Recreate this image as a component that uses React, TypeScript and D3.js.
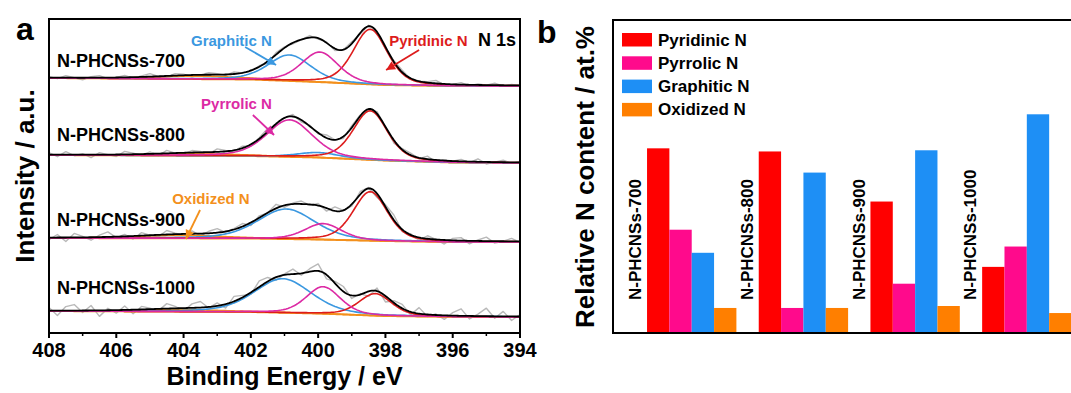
import React from 'react';
import * as d3 from 'd3';

// ---------- DATA ----------
const energyTicks = [408, 406, 404, 402, 400, 398, 396, 394];
const minorTicks = [407, 405, 403, 401, 399, 397, 395];
const samples = ['N-PHCNSs-700', 'N-PHCNSs-800', 'N-PHCNSs-900', 'N-PHCNSs-1000'];
const species = ['Pyridinic N', 'Pyrrolic N', 'Graphitic N', 'Oxidized N'];

// panel b: relative content, at.%
const pyridinicPct = [47.2, 46.4, 33.6, 16.9];
const pyrrolicPct = [26.4, 6.4, 12.6, 22.1];
const graphiticPct = [20.5, 41.0, 46.7, 55.9];
const oxidizedPct = [6.4, 6.4, 6.9, 5.1];

// panel a: fitted components per spectrum [center eV, height, fwhm]
const pyridinicPeaks = [[398.45, 55, 1.2], [398.45, 49, 1.2], [398.45, 49, 1.2], [398.3, 22, 1.15]];
const pyrrolicPeaks = [[399.95, 30, 1.3], [400.85, 37, 1.6], [399.85, 16, 1.3], [399.85, 27, 1.2]];
const graphiticPeaks = [[400.85, 26, 1.5], [400.0, 5, 1.5], [400.95, 30, 2.0], [401.05, 34, 2.0]];
const oxidizedPeaks = [[403.5, 3, 3.0], [403.5, 2, 3.0], [404.0, 3, 3.0], [404.0, 2, 3.0]];

// background knots per spectrum (eV, intensity)
const bgEnergy = [408, 402, 400, 398, 396, 394];
const bgValues = [
  [255, 253.5, 251, 248, 247, 247],
  [178, 177, 175.5, 172.5, 170.5, 170],
  [95, 94.5, 93.5, 92, 91, 91],
  [22, 21, 19.5, 17, 16.2, 16],
];

// raw-data residuals (every 0.25 eV from 408 down to 394)
const residual700 = [1, -1, 2, 0, -2, 1, 2, -1, 0, 2, -1, 1, 3, 0, -1, 2, 1, -2, 0, 2, 1, -1, 2, 0, -1, 1, -2, 2, 1, -1, 0, 2, -1, 1, -2, 0, 2, -1, 1, 0, -2, 1, 2, -1, 0, 1, 3, -1, 0, 2, -1, 1, 0, 2, -1, 1, 0];
const residual800 = [2, -2, 3, -1, 1, -3, 2, 0, -2, 3, 1, -1, 2, -2, 3, 0, -1, 2, 1, -2, 3, 1, -1, 2, -2, 1, 3, -1, 0, 2, -2, 1, -1, 3, 0, -2, 2, 1, -1, 2, 0, -3, 1, 2, -1, 3, -2, 1, 0, 2, -1, 3, -2, 0, 2, -1, 1];
const residual900 = [-2, 3, -4, 4, 1, -3, 2, 5, -1, 2, -3, 3, 0, -2, 4, 1, -1, 3, -2, 2, 4, -1, 1, 3, -3, 2, 0, 4, -2, 1, 3, -1, 2, -3, 4, 0, -2, 3, 1, -4, 2, 5, -2, 1, -3, 3, 0, -4, 2, 3, -3, 1, 4, -2, 0, 3, -1];
const residual1000 = [3, -5, 4, 6, -2, 5, -6, 2, -3, 4, -4, 3, 1, -2, 5, 2, -3, 4, 6, -1, 3, -4, 5, 2, -2, 6, 4, -3, 1, 5, -2, 3, 7, -4, 2, 5, -3, 1, -5, 3, -6, 2, 4, -3, 6, -2, 1, -4, 3, 7, -3, 2, 8, -2, 5, -4, 2];
const residuals = [residual700, residual800, residual900, residual1000];

// label anchors (eV, intensity)
const sampleLabelPos = [[407.76, 272], [407.76, 198], [407.76, 113], [407.76, 45]];

// ---------- STYLE ----------
const FONT = "Arial, 'Liberation Sans', Helvetica, sans-serif";
const lineCol = { pyr: '#dd1c1c', pyrrol: '#dc2aa4', graph: '#3b98e0', oxi: '#f3901c', raw: '#b9b9b9' };
const barCol = ['#ff0000', '#ff0a8c', '#1e8ff5', '#ff7f00'];

const ETA = 0.35;
function gl(e: number, p: number[]) {
  const [c, h, w] = p;
  const u = (e - c) / w;
  return h * ((1 - ETA) * Math.exp(-4 * Math.LN2 * u * u) + ETA / (1 + 4 * u * u));
}

export default function App() {
  const W = 1071, H = 393;
  const A = { l: 49, r: 520, t: 19, b: 333 };
  const x = d3.scaleLinear().domain([408, 394]).range([A.l, A.r]);
  const y = d3.scaleLinear().domain([0, 314]).range([A.b, A.t]);

  const fine = d3.range(394, 408.0001, 0.05);
  const rawE = d3.range(0, 57).map((i) => 408 - i * 0.25);

  const line = d3.line<[number, number]>().x((d) => x(d[0])).y((d) => y(d[1]));

  const spectra = samples.map((s, i) => {
    const bg = d3.scaleLinear().domain(bgEnergy).range(bgValues[i]);
    const comps = [pyridinicPeaks[i], pyrrolicPeaks[i], graphiticPeaks[i], oxidizedPeaks[i]];
    const total = (e: number) => bg(e) + comps.reduce((a, p) => a + gl(e, p), 0);
    const comp = (p: number[]) => line(fine.map((e) => [e, bg(e) + gl(e, p)] as [number, number]));
    return {
      raw: line(rawE.map((e, k) => [e, total(e) + residuals[i][k]] as [number, number])),
      bgPath: line(fine.map((e) => [e, bg(e)] as [number, number])),
      pyr: comp(comps[0]),
      pyrrol: comp(comps[1]),
      graph: comp(comps[2]),
      oxi: comp(comps[3]),
      total: line(fine.map((e) => [e, total(e)] as [number, number])),
    };
  });

  // annotations in data coords
  const annots = [
    { text: 'Graphitic N', col: lineCol.graph, tx: 403.78, ty: 293, from: [402.17, 286], to: [401.25, 268] },
    { text: 'Pyridinic N', col: lineCol.pyr, tx: 397.89, ty: 293, from: [397.0, 283], to: [397.98, 263] },
    { text: 'Pyrrolic N', col: lineCol.pyrrol, tx: 403.48, ty: 230, from: [401.94, 218], to: [401.31, 198] },
    { text: 'Oxidized N', col: lineCol.oxi, tx: 404.34, ty: 135, from: [403.51, 123], to: [403.93, 94] },
  ];

  // panel b
  const B = { l: 613, t: 20, b: 333 };
  const gx = d3.scaleBand<string>().domain(samples).range([624.7, 1071.5]);
  const sx = d3.scaleBand<string>().domain(['label', ...species]).range([0, gx.bandwidth()]);
  const by = d3.scaleLinear().domain([0, 80]).range([B.b, B.t]);
  const series = [pyridinicPct, pyrrolicPct, graphiticPct, oxidizedPct];

  const arrowHead = (fx: number, fy: number, tx: number, ty: number, col: string, key: string) => {
    const ang = Math.atan2(ty - fy, tx - fx);
    const L = 9, Wd = 4.5;
    const bx = tx - L * Math.cos(ang), byy = ty - L * Math.sin(ang);
    const px = -Math.sin(ang), py = Math.cos(ang);
    return <polygon key={key} points={`${tx},${ty} ${bx + px * Wd},${byy + py * Wd} ${bx - px * Wd},${byy - py * Wd}`} fill={col} />;
  };

  return (
    <svg width={W} height={H} style={{ position: 'absolute', left: 0, top: 0, background: '#fff' }} fontFamily={FONT}>
      <rect width={W} height={H} fill="#fff" />
      {/* ---------- panel a ---------- */}
      <text x={16} y={40} fontSize={32} fontWeight="bold">a</text>
      {spectra.map((s, i) => (
        <g key={i} fill="none" strokeLinejoin="round">
          <path d={s.raw!} stroke={lineCol.raw} strokeWidth={1.4} />
          <path d={s.bgPath!} stroke={lineCol.oxi} strokeWidth={2} />
          <path d={s.oxi!} stroke={lineCol.oxi} strokeWidth={1.6} />
          <path d={s.graph!} stroke={lineCol.graph} strokeWidth={1.6} />
          <path d={s.pyr!} stroke={lineCol.pyr} strokeWidth={1.6} />
          <path d={s.pyrrol!} stroke={lineCol.pyrrol} strokeWidth={1.6} />
          <path d={s.total!} stroke="#000" strokeWidth={1.8} />
        </g>
      ))}
      {samples.map((s, i) => (
        <text key={s} x={x(sampleLabelPos[i][0])} y={y(sampleLabelPos[i][1])} dominantBaseline="central" fontSize={18} fontWeight="bold">{s}</text>
      ))}
      {annots.map((a) => {
        const fx = x(a.from[0]), fy = y(a.from[1]), tx = x(a.to[0]), ty = y(a.to[1]);
        return (
          <g key={a.text}>
            <text x={x(a.tx)} y={y(a.ty)} dominantBaseline="central" fontSize={15} fontWeight="bold" fill={a.col}>{a.text}</text>
            <line x1={fx} y1={fy} x2={tx} y2={ty} stroke={a.col} strokeWidth={1.8} />
            {arrowHead(fx, fy, tx, ty, a.col, a.text + 'h')}
          </g>
        );
      })}
      <text x={x(395.25)} y={y(293)} dominantBaseline="central" fontSize={18} fontWeight="bold">N 1s</text>
      <rect x={A.l} y={A.t} width={A.r - A.l} height={A.b - A.t} fill="none" stroke="#000" strokeWidth={2} />
      {energyTicks.map((t) => (
        <g key={t}>
          <line x1={x(t)} x2={x(t)} y1={A.b} y2={A.b + 5} stroke="#000" strokeWidth={2} />
          <text x={x(t)} y={357} textAnchor="middle" fontSize={20} fontWeight="bold">{t}</text>
        </g>
      ))}
      {minorTicks.map((t) => (
        <line key={t} x1={x(t)} x2={x(t)} y1={A.b} y2={A.b + 3} stroke="#000" strokeWidth={1.5} />
      ))}
      <text x={(A.l + A.r) / 2} y={385} textAnchor="middle" fontSize={25} fontWeight="bold">Binding Energy / eV</text>
      <text transform={`translate(34,${(A.t + A.b) / 2}) rotate(-90)`} textAnchor="middle" fontSize={26} fontWeight="bold">Intensity / a.u.</text>

      {/* ---------- panel b ---------- */}
      <text x={537} y={43} fontSize={32} fontWeight="bold">b</text>
      <text transform={`translate(594,177) rotate(-90)`} textAnchor="middle" fontSize={26} fontWeight="bold">Relative N content / at.%</text>
      {samples.map((s, gi) => (
        <g key={s}>
          {species.map((sp, si) => (
            <rect key={sp} x={gx(s)! + sx(sp)!} y={by(series[si][gi])} width={sx.bandwidth()} height={B.b - by(series[si][gi])} fill={barCol[si]} />
          ))}
          <text transform={`translate(${gx(s)! + sx('label')! + sx.bandwidth() / 2},300) rotate(-90)`} dominantBaseline="central" fontSize={17} fontWeight="bold">{s}</text>
        </g>
      ))}
      <rect x={B.l} y={B.t} width={520} height={B.b - B.t} fill="none" stroke="#000" strokeWidth={2} />
      {species.map((sp, i) => (
        <g key={sp}>
          <rect x={622} y={33 + i * 23.3} width={30} height={13.5} fill={barCol[i]} />
          <text x={658} y={40 + i * 23.3} dominantBaseline="central" fontSize={17} fontWeight="bold">{sp}</text>
        </g>
      ))}
    </svg>
  );
}
